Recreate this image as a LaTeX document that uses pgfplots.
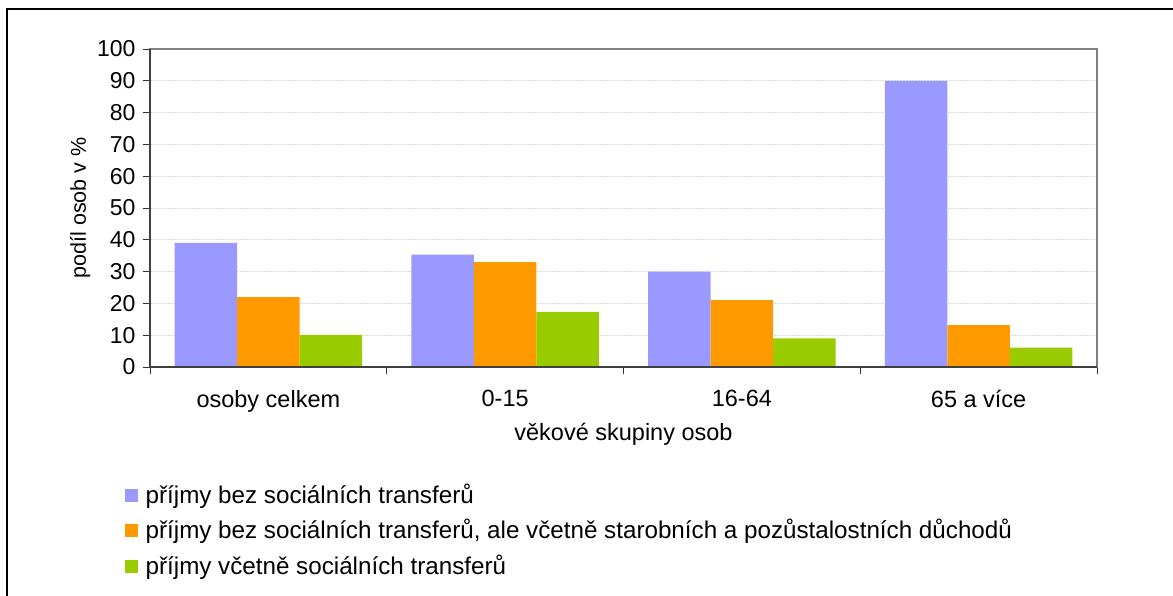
\documentclass[border=0pt]{standalone}
\usepackage{pgfplots}
\pgfplotsset{compat=1.18}
\usepackage{fontspec}
\setmainfont{Liberation Sans}
\definecolor{cblue}{HTML}{9999FF}
\definecolor{corange}{HTML}{FF9900}
\definecolor{cgreen}{HTML}{99CC00}
\definecolor{cgrid}{HTML}{DADADA}
\begin{document}
\fontsize{22}{26}\selectfont
\begin{tikzpicture}
\useasboundingbox (0pt,0pt) rectangle (1173pt,-596pt);
\draw[black, line width=1.3pt] (7pt,-9pt) rectangle (1210pt,-640pt);
\begin{axis}[
  at={(150pt,-367pt)}, anchor=south west,
  scale only axis, width=947pt, height=318pt,
  ybar=0pt, bar width=62.5pt,
  xmin=-0.5, xmax=3.5, ymin=0, ymax=100,
  xtick={-0.5,0.5,1.5,2.5,3.5},
  x tick label as interval,
  xticklabels={osoby celkem,0-15,16-64,65 a více},
  ytick={0,10,...,100},
  xtick pos=bottom, ytick pos=left,
  tick align=outside, major tick length=7pt,
  tick style={black!80, line width=1pt},
  ymajorgrids, grid style={draw=cgrid, line width=1pt, dash pattern=on 2pt off 1pt},
  axis line style={draw=gray, line width=1.8pt},
  /pgf/number format/assume math mode=true,
  yticklabel style={font=\fontsize{23}{27}\selectfont},
  xticklabel style={font=\fontsize{23.5}{27}\selectfont, yshift=-9pt},
  xlabel={věkové skupiny osob},
  ylabel={podíl osob v \%},
  xlabel style={font=\fontsize{23.5}{27}\selectfont, yshift=4pt},
  ylabel style={font=\fontsize{21.5}{25}\selectfont, yshift=-8pt},
  legend style={at={(axis description cs:-0.027,-0.3606)}, anchor=north west, draw=none, fill=none,
    font=\fontsize{24.2}{28}\selectfont, row sep=8.8pt, inner sep=0pt,
    /tikz/every odd column/.append style={column sep=6pt}},
  legend cell align=left,
  legend image code/.code={\fill[#1] (0pt,-6.5pt) rectangle (13pt,6.5pt);},
  clip=false,
]
\addplot[fill=cblue, draw=none] coordinates {(0,39.0) (1,35.3) (2,30.0) (3,90.0)};
\addplot[fill=corange, draw=none] coordinates {(0,22.0) (1,33.0) (2,21.0) (3,13.2)};
\addplot[fill=cgreen, draw=none] coordinates {(0,10.1) (1,17.3) (2,9.0) (3,6.1)};
\legend{{příjmy bez sociálních transferů},
{příjmy bez sociálních transferů, ale včetně starobních a pozůstalostních důchodů},
{příjmy včetně sociálních transferů}}
\draw[black!75, line width=1.5pt] (rel axis cs:0,1) -- (rel axis cs:0,0) -- (rel axis cs:1,0);
\end{axis}
\end{tikzpicture}
\end{document}
